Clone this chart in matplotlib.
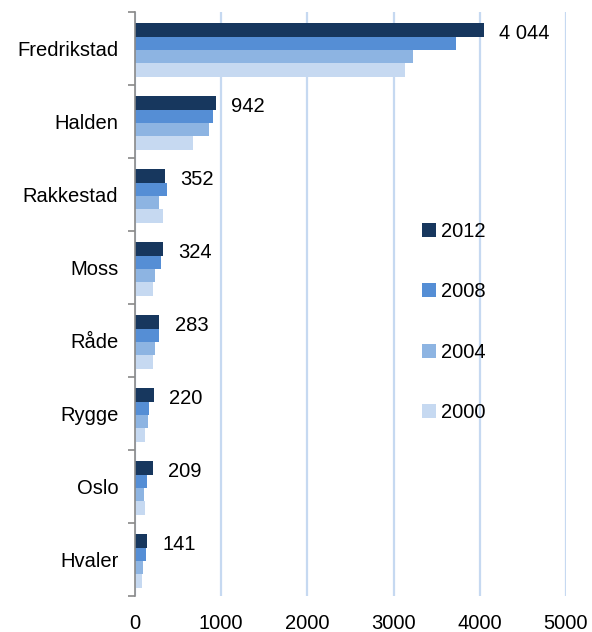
import matplotlib
matplotlib.use("Agg")
import matplotlib.pyplot as plt
import numpy as np

plt.rcParams['font.family'] = ['Liberation Sans', 'DejaVu Sans']

categories = ["Fredrikstad", "Halden", "Rakkestad", "Moss", "Råde", "Rygge", "Oslo", "Hvaler"]
years = ["2012", "2008", "2004", "2000"]
v2012 = [4044, 942, 352, 324, 283, 220, 209, 141]
v2008 = [3725, 910, 367, 298, 278, 162, 135, 124]
v2004 = [3225, 855, 282, 236, 236, 151, 108, 93]
v2000 = [3128, 677, 321, 213, 213, 116, 112, 81]
series = [v2012, v2008, v2004, v2000]
colors = ["#17375E", "#558ED5", "#8DB4E2", "#C6D9F1"]
xticks = [0, 1000, 2000, 3000, 4000, 5000]

fs = 14.5
fig = plt.figure(figsize=(5.92, 6.32), dpi=100)
ax = fig.add_axes([135/592, 1-596/632, (566-135)/592, (596-12)/632])

n = len(categories)
y = np.arange(n)
bh = 0.182
offsets = [-1.5*bh, -0.5*bh, 0.5*bh, 1.5*bh]
for vals, col, off, lab in zip(series, colors, offsets, years):
    ax.barh(y + off + 0.02, vals, height=bh, color=col, label=lab, zorder=3)

for i, v in enumerate(v2012):
    ax.annotate(f"{v:,}".replace(",", " "), xy=(v, y[i] + offsets[0] + 0.07),
                xytext=(11, 0), textcoords="offset points",
                ha="left", va="center", fontsize=fs, color="black")

ax.set_xlim(0, 5000)
ax.set_ylim(n - 0.5, -0.5)
ax.set_xticks(xticks)
ax.set_xticklabels([str(t) for t in xticks], fontsize=fs)
ax.set_yticks(y)
ax.set_yticklabels(categories, fontsize=fs)
ax.set_yticks(np.arange(n + 1) - 0.5, minor=True)
ax.tick_params(axis='y', which='major', length=0, pad=12)
ax.tick_params(axis='y', which='minor', length=5, color="#898989", width=1.2)
ax.tick_params(axis='x', length=0, pad=13)

ax.grid(axis='x', color="#C6D9F1", linewidth=1.6, zorder=0)
ax.set_axisbelow(True)
for s in ["top", "right", "bottom"]:
    ax.spines[s].set_visible(False)
ax.spines["left"].set_color("#898989")
ax.spines["left"].set_linewidth(1.2)
ax.spines["left"].set_zorder(4)

leg = ax.legend(loc="upper left", bbox_to_anchor=((414-135)/431, 1-(214-12)/584),
                frameon=False, fontsize=fs, labelspacing=2.05,
                handlelength=0.7, handleheight=0.7, handletextpad=0.25, borderaxespad=0)

fig.savefig("out.png", dpi=100)
